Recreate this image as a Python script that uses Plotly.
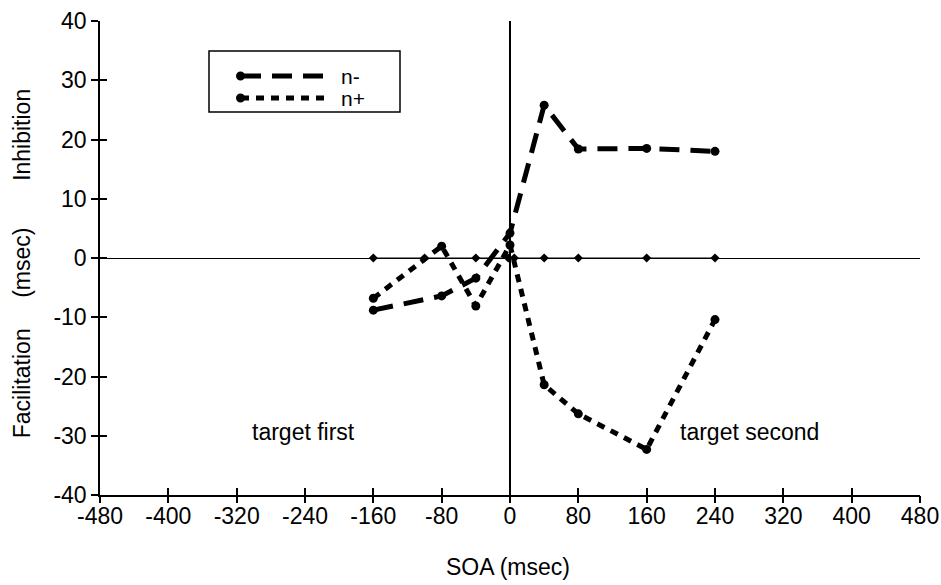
import plotly.graph_objects as go

# ---- data ----
soa = [-160, -80, -40, 0, 40, 80, 160, 240]
n_minus = [-8.8, -6.4, -3.4, 4.2, 25.8, 18.4, 18.5, 18.0]
n_plus = [-6.8, 2.0, -8.1, 2.2, -21.4, -26.3, -32.3, -10.4]
zero_soa = [-160, -100, -40, -2, 5, 40, 80, 160, 240]
zero_vals = [0, 0, 0, 0, 0, 0, 0, 0, 0]

x_ticks = [-480, -400, -320, -240, -160, -80, 0, 80, 160, 240, 320, 400, 480]
y_ticks = [-40, -30, -20, -10, 0, 10, 20, 30, 40]

FONT = "Liberation Sans, Arial, sans-serif"
FS = 23

fig = go.Figure()

fig.add_trace(go.Scatter(
    x=zero_soa, y=zero_vals, mode="lines+markers",
    line=dict(color="black", width=1),
    marker=dict(symbol="diamond", size=7, color="black"),
    showlegend=False, hoverinfo="skip"))

fig.add_trace(go.Scatter(
    x=soa, y=n_minus, mode="lines+markers", name="n-",
    line=dict(color="black", width=5, dash="20px,11px"),
    marker=dict(symbol="circle", size=9, color="black"),
    showlegend=False))

fig.add_trace(go.Scatter(
    x=soa, y=n_plus, mode="lines+markers", name="n+",
    line=dict(color="black", width=5, dash="8px,7px"),
    marker=dict(symbol="circle", size=9, color="black"),
    showlegend=False))

# dummy trace for overlay axes (cross ticks)
fig.add_trace(go.Scatter(x=[None], y=[None], xaxis="x2", yaxis="y2",
                         showlegend=False, hoverinfo="skip"))

fig.update_layout(
    width=941, height=585,
    margin=dict(l=100, r=21, t=21, b=90),
    paper_bgcolor="white", plot_bgcolor="white",
    font=dict(family=FONT, size=FS, color="black"),
    xaxis=dict(range=[-480, 480], tickvals=x_ticks, ticktext=[str(v) for v in x_ticks],
               ticks="inside", ticklen=7, tickwidth=1.5, tickcolor="black",
               showline=True, linecolor="black", linewidth=1.5,
               zeroline=True, zerolinecolor="black", zerolinewidth=1.5,
               showgrid=False, automargin=False,
               tickfont=dict(family=FONT, size=FS)),
    yaxis=dict(range=[-40, 40], tickvals=y_ticks, ticktext=[str(v) for v in y_ticks],
               ticks="outside", ticklen=7, tickwidth=1.5, tickcolor="black",
               showline=True, linecolor="black", linewidth=1.5,
               zeroline=True, zerolinecolor="black", zerolinewidth=1,
               showgrid=False, automargin=False,
               tickfont=dict(family=FONT, size=FS)),
    xaxis2=dict(range=[-480, 480], overlaying="x", anchor="y2", side="bottom",
                tickvals=x_ticks, ticks="outside", ticklen=7, tickwidth=1.5,
                tickcolor="black", showticklabels=False, showline=False,
                zeroline=False, showgrid=False, automargin=False),
    yaxis2=dict(range=[-40, 40], overlaying="y", anchor="x2", side="left",
                tickvals=y_ticks, ticks="inside", ticklen=7, tickwidth=1.5,
                tickcolor="black", showticklabels=False, showline=False,
                zeroline=False, showgrid=False, automargin=False),
    showlegend=False,
)

# y-axis title pieces
for txt, yp in [("Inhibition", 0.76), ("(msec)", 0.49), ("Facilitation", 0.236)]:
    fig.add_annotation(text=txt, xref="paper", yref="paper", x=-0.095, y=yp,
                       textangle=-90, showarrow=False, xanchor="center", yanchor="middle",
                       font=dict(family=FONT, size=FS))
fig.add_annotation(text="SOA (msec)", xref="paper", yref="paper", x=0.4976, y=-0.152,
                   showarrow=False, xanchor="center", yanchor="middle",
                   font=dict(family=FONT, size=FS))

# region labels
fig.add_annotation(text="target first", x=-304, y=-29.3, showarrow=False,
                   xanchor="left", font=dict(family=FONT, size=FS))
fig.add_annotation(text="target second", x=197, y=-29.3, showarrow=False,
                   xanchor="left", font=dict(family=FONT, size=FS))

# manual legend (window pixel -> paper coords; plot area spans 100..920 x, 21..495 y)
def px_x(p):
    return (p - 100) / 820.0

def px_y(p):
    return (495 - p) / 474.0

fig.add_shape(type="rect", xref="paper", yref="paper",
              x0=px_x(209), x1=px_x(400), y0=px_y(112), y1=px_y(51),
              line=dict(color="black", width=1.5), fillcolor="white", layer="above")
for ypix, dash, label in [(76, "20px,11px", "n-"), (98, "8px,7px", "n+")]:
    fig.add_shape(type="line", xref="paper", yref="paper",
                  x0=px_x(241), x1=px_x(326), y0=px_y(ypix), y1=px_y(ypix),
                  line=dict(color="black", width=5, dash=dash), layer="above")
    fig.add_shape(type="circle", xref="paper", yref="paper",
                  x0=px_x(236), x1=px_x(245), y0=px_y(ypix + 4.5), y1=px_y(ypix - 4.5),
                  line=dict(color="black", width=0), fillcolor="black", layer="above")
    fig.add_annotation(text=label, xref="paper", yref="paper", x=px_x(339), y=px_y(ypix),
                       xanchor="left", yanchor="middle", showarrow=False,
                       font=dict(family=FONT, size=21))

# remove the default page margin so the figure fills the window exactly
fig.write_html("out.html", config={"displayModeBar": False},
               post_script="document.body.style.margin='0';document.body.style.overflow='hidden';")
